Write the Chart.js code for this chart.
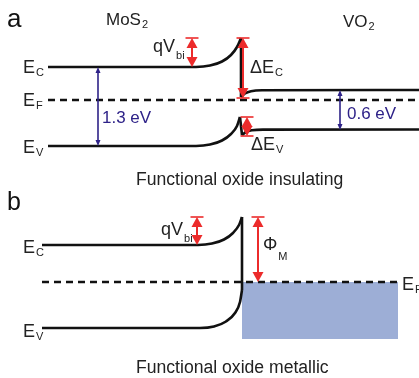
<!DOCTYPE html>
<html><head><meta charset="utf-8">
<script src="https://cdn.jsdelivr.net/npm/chart.js@4"></script>
<style>html,body{margin:0;padding:0;background:#fff;overflow:hidden}#wrap{width:419px;height:378px}</style>
</head><body><div id="wrap"><canvas id="c" width="419" height="378"></canvas></div>
<script>
// ---- Band diagram data (diagram coordinates: x across, y = energy drawn downward) ----
// Panel a: MoS2 / VO2 (insulating)
const aMoS2_CB = [[48,67],[196,67],[210,65.6],[222,61.5],[231,55],[237,47],[241,38]];
const aJunction_CB = [[241,38],[241,97]];
const aVO2_CB = [[241,97],[245,93.5],[251,91.2],[262,90.2],[419,90]];
const aMoS2_VB = [[48,146],[196,146],[210,144.6],[222,140.5],[231,134],[237,126],[240,117]];
const aJunction_VB = [[240,117],[242,135]];
const aVO2_VB = [[242,135],[246,132],[252,130.3],[263,129.6],[419,129.5]];
const aFermi = [[48,100],[419,100]];
// Panel b: MoS2 / VO2 (metallic)
const bMoS2_CB = [[42,245],[198,245],[212,243.6],[224,239.5],[233,233],[239,225],[242,217]];
const bJunction = [[242,217],[242,290]];
const bMoS2_VB = [[42,328],[200,328],[214,326.5],[226,321.5],[235,313],[240,302],[242,290]];
const bFermi = [[42,282],[398,282]];
const bMetalTop = [[242,282],[398,282]];
const bMetalBottom = [[242,339],[398,339]];
// Energy arrows [x, yFrom, yTo]
const redArrows = [[192,38,67],[243,38,98],[247,117,136],[197,217,245],[258,217,282]];
const redBarTop = [true,true,true,true,true];
const redBarBottom = [false,true,true,false,false];
const gapArrows = [[98,67,146],[340,90,130]];
// Text
const panelLetters = ['a','b'];
const materials = [['MoS','2'],['VO','2']];
const levelLabels = [['E','C'],['E','F'],['E','V'],['E','C'],['E','V'],['E','F']];
const offsetLabels = [['qV','bi'],['ΔE','C'],['ΔE','V'],['qV','bi'],['Φ','M']];
const gapLabels = ['1.3 eV','0.6 eV'];
const captions = ['Functional oxide insulating','Functional oxide metallic'];

// ---- layout (not data) ----
const FONT = '"Liberation Sans", Arial, sans-serif';
const RED = '#ec2b2b', NAVY = '#2e2288', BLUE = '#9daed6';

const pts = a => a.map(p => ({x:p[0], y:p[1]}));
function line(d, opts){ return Object.assign({data:pts(d), borderColor:'#111', borderWidth:2.6, pointRadius:0, fill:false, tension:0, borderCapStyle:'butt'}, opts||{}); }
const curve = {cubicInterpolationMode:'monotone'};
const datasets = [
  line(aMoS2_CB, curve), line(aJunction_CB), line(aVO2_CB, curve),
  line(aMoS2_VB, curve), line(aJunction_VB), line(aVO2_VB, curve),
  line(aFermi, {borderDash:[7,5], borderWidth:2.4}),
  line(bMoS2_CB, curve), line(bJunction), line(bMoS2_VB, curve),
  line(bFermi, {borderDash:[7,5], borderWidth:2.4, order:-1}),
  line(bMetalTop, {borderWidth:0, borderColor:'rgba(0,0,0,0)', backgroundColor:BLUE, fill:'+1', order:5}),
  line(bMetalBottom, {borderWidth:0, borderColor:'rgba(0,0,0,0)', order:6})
];

const textPos = {
  letters: [[7,27,26],[7,210,25]],
  materials: [[106,25],[343,27]],
  levels: [[23,73],[23,106],[23,153],[23,253],[23,337],[402,290]],
  offsets: [[153,52],[250,73],[251,150],[161,235],[263,250]],
  gaps: [[102,123],[347,119]],
  captions: [[136,185],[136,373]]
};

function subText(ctx, main, sub, x, y, size, subSize, dy, color){
  ctx.fillStyle = color; ctx.textBaseline = 'alphabetic'; ctx.textAlign = 'left';
  ctx.font = size + 'px ' + FONT; ctx.fillText(main, x, y);
  const w = ctx.measureText(main).width;
  ctx.font = subSize + 'px ' + FONT; ctx.fillText(sub, x + w + 1, y + dy);
}
function arrow(ctx, x, y1, y2, color, lw, hl, hw, barT, barB){
  ctx.save(); ctx.strokeStyle = color; ctx.fillStyle = color; ctx.lineWidth = lw;
  ctx.beginPath(); ctx.moveTo(x, y1 + hl*0.8); ctx.lineTo(x, y2 - hl*0.8); ctx.stroke();
  ctx.beginPath(); ctx.moveTo(x, y1); ctx.lineTo(x - hw/2, y1 + hl); ctx.lineTo(x + hw/2, y1 + hl); ctx.closePath(); ctx.fill();
  ctx.beginPath(); ctx.moveTo(x, y2); ctx.lineTo(x - hw/2, y2 - hl); ctx.lineTo(x + hw/2, y2 - hl); ctx.closePath(); ctx.fill();
  ctx.lineWidth = 1.6;
  if (barT){ ctx.beginPath(); ctx.moveTo(x - hw/2 - 1, y1); ctx.lineTo(x + hw/2 + 1, y1); ctx.stroke(); }
  if (barB){ ctx.beginPath(); ctx.moveTo(x - hw/2 - 1, y2); ctx.lineTo(x + hw/2 + 1, y2); ctx.stroke(); }
  ctx.restore();
}

const annot = {
  id: 'annot',
  afterDatasetsDraw(chart){
    const ctx = chart.ctx, X = v => chart.scales.x.getPixelForValue(v), Y = v => chart.scales.y.getPixelForValue(v);
    redArrows.forEach((a,i) => arrow(ctx, X(a[0]), Y(a[1]), Y(a[2]), RED, 2, 10, 11, redBarTop[i], redBarBottom[i]));
    gapArrows.forEach(a => arrow(ctx, X(a[0]), Y(a[1]), Y(a[2]), NAVY, 1.6, 6, 5, false, false));
    ctx.save();
    panelLetters.forEach((t,i) => { const p = textPos.letters[i]; ctx.fillStyle='#111'; ctx.font = p[2]+'px '+FONT; ctx.textAlign='left'; ctx.fillText(t, p[0], p[1]); });
    materials.forEach((m,i) => { const p = textPos.materials[i]; subText(ctx, m[0], m[1], p[0], p[1], 17, 11, 3, '#222'); });
    levelLabels.forEach((m,i) => { const p = textPos.levels[i]; subText(ctx, m[0], m[1], p[0], p[1], 18, 11, 3, '#222'); });
    offsetLabels.forEach((m,i) => { const p = textPos.offsets[i]; subText(ctx, m[0], m[1], p[0], p[1], 18, 11, i===4?10:(i===0||i===3?7:3), '#222'); });
    gapLabels.forEach((t,i) => { const p = textPos.gaps[i]; ctx.fillStyle = NAVY; ctx.font = '17px '+FONT; ctx.textAlign='left'; ctx.fillText(t, p[0], p[1]); });
    captions.forEach((t,i) => { const p = textPos.captions[i]; ctx.fillStyle = '#222'; ctx.font = '17.6px '+FONT; ctx.textAlign='left'; ctx.fillText(t, p[0], p[1]); });
    ctx.restore();
  }
};

new Chart(document.getElementById('c').getContext('2d'), {
  type: 'line',
  data: { datasets },
  options: {
    responsive: false, animation: false, events: [],
    layout: { padding: 0 },
    plugins: { legend: { display: false }, tooltip: { enabled: false } },
    scales: {
      x: { type: 'linear', min: 0, max: 419, display: false },
      y: { type: 'linear', min: 0, max: 378, reverse: true, display: false }
    }
  },
  plugins: [annot]
});
</script></body></html>
